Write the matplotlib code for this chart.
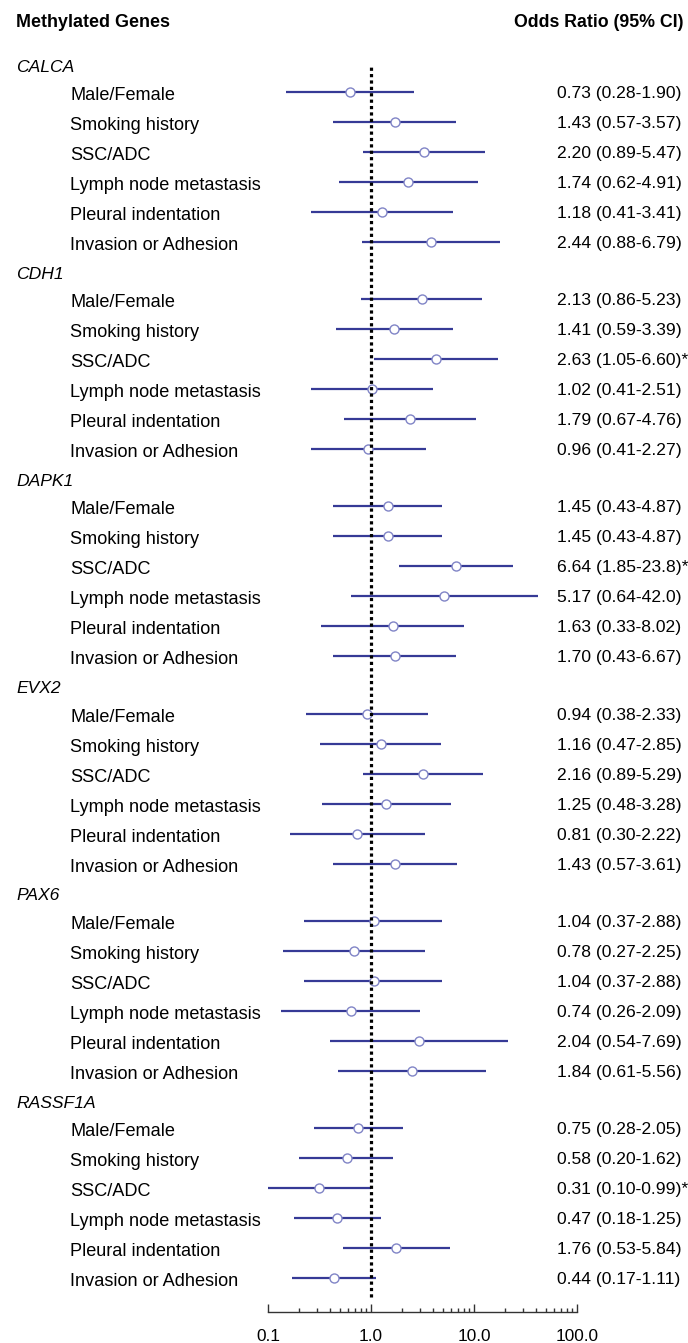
import matplotlib
matplotlib.use('Agg')
import matplotlib.pyplot as plt
from matplotlib.ticker import FixedLocator, LogLocator, NullFormatter

plt.rcParams['font.family'] = ['Liberation Sans', 'DejaVu Sans']

# ---- data ----
genes = ['CALCA', 'CDH1', 'DAPK1', 'EVX2', 'PAX6', 'RASSF1A']
factors = ['Male/Female', 'Smoking history', 'SSC/ADC',
           'Lymph node metastasis', 'Pleural indentation', 'Invasion or Adhesion']

odds_ratio = [
    [0.73, 1.43, 2.20, 1.74, 1.18, 2.44],
    [2.13, 1.41, 2.63, 1.02, 1.79, 0.96],
    [1.45, 1.45, 6.64, 5.17, 1.63, 1.70],
    [0.94, 1.16, 2.16, 1.25, 0.81, 1.43],
    [1.04, 0.78, 1.04, 0.74, 2.04, 1.84],
    [0.75, 0.58, 0.31, 0.47, 1.76, 0.44],
]
ci_low = [
    [0.28, 0.57, 0.89, 0.62, 0.41, 0.88],
    [0.86, 0.59, 1.05, 0.41, 0.67, 0.41],
    [0.43, 0.43, 1.85, 0.64, 0.33, 0.43],
    [0.38, 0.47, 0.89, 0.48, 0.30, 0.57],
    [0.37, 0.27, 0.37, 0.26, 0.54, 0.61],
    [0.28, 0.20, 0.10, 0.18, 0.53, 0.17],
]
ci_high = [
    [1.90, 3.57, 5.47, 4.91, 3.41, 6.79],
    [5.23, 3.39, 6.60, 2.51, 4.76, 2.27],
    [4.87, 4.87, 23.8, 42.0, 8.02, 6.67],
    [2.33, 2.85, 5.29, 3.28, 2.22, 3.61],
    [2.88, 2.25, 2.88, 2.09, 7.69, 5.56],
    [2.05, 1.62, 0.99, 1.25, 5.84, 1.11],
]
significant = [
    [0, 0, 0, 0, 0, 0],
    [0, 0, 1, 0, 0, 0],
    [0, 0, 1, 0, 0, 0],
    [0, 0, 0, 0, 0, 0],
    [0, 0, 0, 0, 0, 0],
    [0, 0, 1, 0, 0, 0],
]
axis_ticks = [0.1, 1.0, 10.0, 100.0]
axis_labels = ['0.1', '1.0', '10.0', '100.0']

# ---- layout (pixels) ----
W, H = 688, 1343
X0, X1 = 268, 577          # horizontal strip of the plot
HEAD0, BLOCK = 65, 207.2   # first gene header, block height
ROW0, ROWSTEP = 27, 30     # first row offset from header, row spacing
AXIS_Y = 1312
# the original panels were not all drawn on the same scale:
# number of decades shown across the strip for each gene block
decades = [2, 2, 3, 2, 2, 3]

LINE_C = '#363a96'
DOT_EDGE = '#8084c6'


def fx(px):
    return px / W


def fy(py):
    return 1 - py / H


def fmt(v):
    return f'{v:.1f}' if v >= 10 else f'{v:.2f}'


fig = plt.figure(figsize=(W / 100, H / 100), dpi=100)

# header
fig.text(fx(16), fy(27), 'Methylated Genes', fontsize=12.9, fontweight='bold', va='baseline')
fig.text(fx(684), fy(27), 'Odds Ratio (95% CI)', fontsize=12.8, fontweight='bold',
         ha='right', va='baseline')

for g, gene in enumerate(genes):
    top = HEAD0 + g * BLOCK
    fig.text(fx(16), fy(top + 6.5), gene, fontsize=12.6, style='italic', va='baseline')

    rows = list(range(len(factors)))
    for i, factor in enumerate(factors):
        ry = top + ROW0 + ROWSTEP * i
        fig.text(fx(70), fy(ry + 8), factor, fontsize=13.1, va='baseline')
        txt = f'{fmt(odds_ratio[g][i])} ({fmt(ci_low[g][i])}-{fmt(ci_high[g][i])})'
        if significant[g][i]:
            txt += '*'
        fig.text(fx(557), fy(ry + 6), txt, fontsize=12.6, va='baseline')

    # axes for this block: rows -0.5 .. 5.5
    y_top = top + ROW0 - ROWSTEP / 2
    y_bot = y_top + ROWSTEP * len(factors)
    ax = fig.add_axes([fx(X0), fy(y_bot), fx(X1) - fx(X0), fy(y_top) - fy(y_bot)])
    ax.set_xscale('log')
    span = decades[g]
    ax.set_xlim(10 ** (-span / 3), 10 ** (2 * span / 3))
    ax.set_ylim(len(factors) - 0.5, -0.5)
    ax.axis('off')
    ax.hlines(rows, ci_low[g], ci_high[g], color=LINE_C, lw=1.6, clip_on=False)
    ax.plot(odds_ratio[g], rows, 'o', mfc='white', mec=DOT_EDGE, ms=6.5, mew=1.0,
            zorder=3, clip_on=False)

# base axis with the reference line at OR = 1
base = fig.add_axes([fx(X0), fy(AXIS_Y), fx(X1) - fx(X0), fy(HEAD0) - fy(AXIS_Y)])
base.patch.set_visible(False)
base.set_xscale('log')
base.set_xlim(axis_ticks[0], axis_ticks[-1])
base.set_ylim(0, 1)
base.axvline(1.0, ymin=15 / (AXIS_Y - HEAD0), ymax=1, color='black', lw=2.3,
             linestyle=(0, (1, 1)), dash_capstyle='butt')
for s in ['top', 'left', 'right']:
    base.spines[s].set_visible(False)
base.spines['bottom'].set_color('#333333')
base.spines['bottom'].set_linewidth(1.0)
base.set_yticks([])
base.xaxis.set_major_locator(FixedLocator(axis_ticks))
base.set_xticklabels(axis_labels)
base.xaxis.set_minor_locator(LogLocator(base=10, subs=range(2, 10)))
base.xaxis.set_minor_formatter(NullFormatter())
base.tick_params(axis='x', which='major', direction='in', length=5.5, width=1.0,
                 color='#333333', labelsize=12.4, pad=12)
base.tick_params(axis='x', which='minor', direction='in', length=3, width=1.0,
                 color='#333333')

fig.savefig('out.png', dpi=100)
